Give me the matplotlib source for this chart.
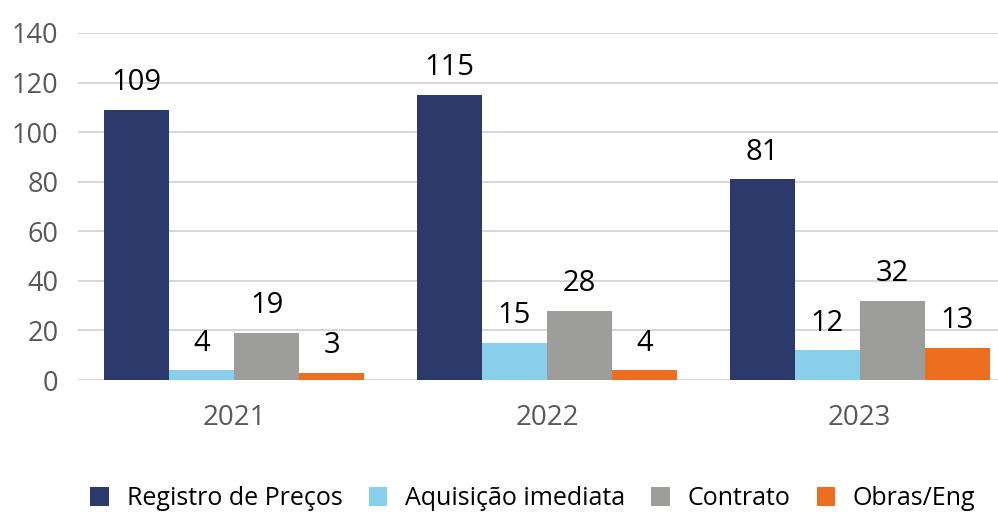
import matplotlib.pyplot as plt
import numpy as np

anos = ['2021', '2022', '2023']
series = ['Registro de Preços', 'Aquisição imediata', 'Contrato', 'Obras/Eng']
registro = [109, 115, 81]
aquisicao = [4, 15, 12]
contrato = [19, 28, 32]
obras = [3, 4, 13]
cores = ['#2B3A6B', '#89CFEB', '#9D9D9C', '#EC6E1E']

plt.rcParams['font.family'] = ['Open Sans', 'DejaVu Sans']

fig = plt.figure(figsize=(9.98, 5.14), dpi=100)
ax = fig.add_axes([0.078, 0.2607, 0.94, 0.6751])

x = np.arange(len(anos))
largura = 0.208
valores = [registro, aquisicao, contrato, obras]
for i, (nome, vals, cor) in enumerate(zip(series, valores, cores)):
    pos = x + (i - 1.5) * largura
    barras = ax.bar(pos, vals, largura, color=cor, label=nome, zorder=2)
    ax.bar_label(barras, labels=[str(v) for v in vals], padding=9,
                 fontsize=21, color='#000000')

ax.set_xlim(-0.5, 2.5)
ax.set_ylim(0, 140)
ax.set_yticks(range(0, 141, 20))
ax.set_xticks(x)
ax.set_xticklabels(anos)
ax.grid(axis='y', color='#D0D0D0', linewidth=1.2, zorder=0)
ax.tick_params(axis='y', length=0, labelsize=19.5, colors='#595959', pad=14)
ax.tick_params(axis='x', length=0, labelsize=20, colors='#595959', pad=17)
for s in ax.spines.values():
    s.set_visible(False)

fig.legend(loc='center', bbox_to_anchor=(0.534, 0.03), ncol=4, frameon=False,
           fontsize=18, handlelength=0.75, handleheight=0.75, handletextpad=0.7,
           columnspacing=1.05)

plt.savefig('out.png', dpi=100)
